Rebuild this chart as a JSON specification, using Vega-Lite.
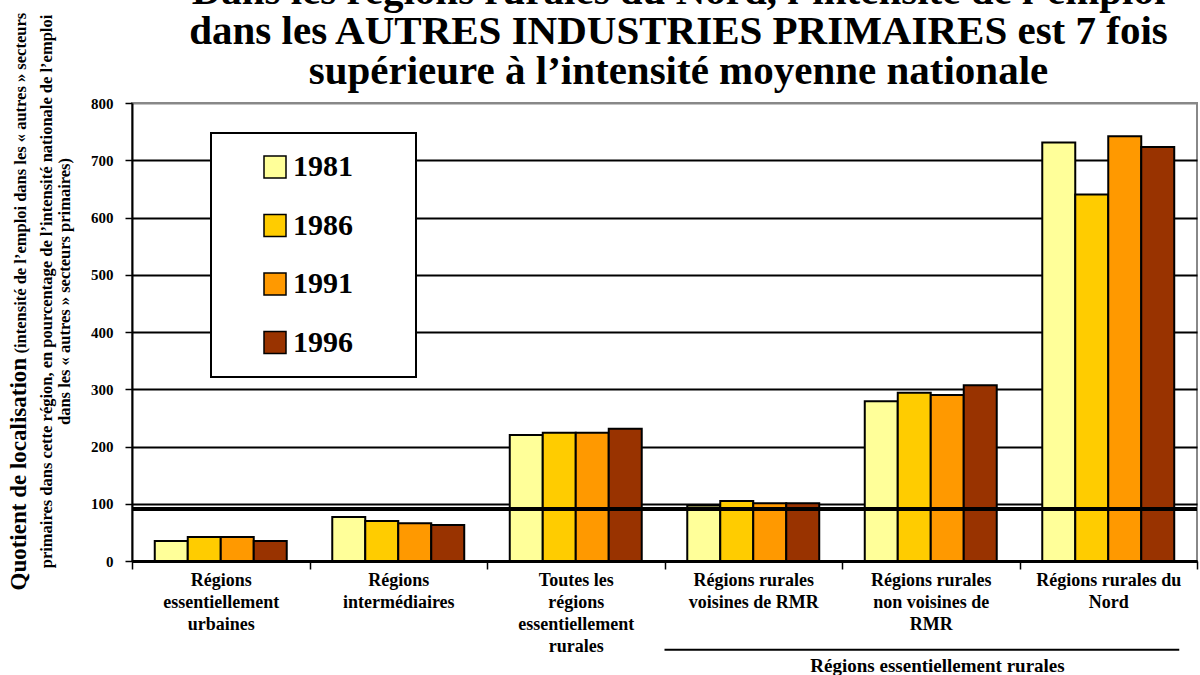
{
  "$schema": "https://vega.github.io/schema/vega-lite/v6.json",
  "width": 1065,
  "height": 458,
  "autosize": {"type": "none"},
  "padding": {"left": 132, "top": 103, "right": 3, "bottom": 114},
  "background": "white",
  "title": {
    "text": ["Dans les régions rurales du Nord, l’intensité de l’emploi", "dans les AUTRES INDUSTRIES PRIMAIRES est 7 fois", "supérieure à l’intensité moyenne nationale"],
    "font": "Liberation Serif",
    "fontSize": 41,
    "fontWeight": "bold",
    "lineHeight": 40,
    "anchor": "middle",
    "dx": 14,
    "offset": -81,
    "color": "black"
  },
  "config": {
    "view": {"stroke": "#888888", "strokeWidth": 2},
    "font": "Liberation Serif",
    "legend": {"strokeWidth": 2}
  },
  "data": {
    "values": [
      {"region": "Régions essentiellement urbaines", "year": "1981", "value": 35},
      {"region": "Régions essentiellement urbaines", "year": "1986", "value": 42},
      {"region": "Régions essentiellement urbaines", "year": "1991", "value": 42},
      {"region": "Régions essentiellement urbaines", "year": "1996", "value": 35},
      {"region": "Régions intermédiaires", "year": "1981", "value": 77},
      {"region": "Régions intermédiaires", "year": "1986", "value": 70},
      {"region": "Régions intermédiaires", "year": "1991", "value": 66},
      {"region": "Régions intermédiaires", "year": "1996", "value": 63},
      {"region": "Toutes les régions essentiellement rurales", "year": "1981", "value": 220},
      {"region": "Toutes les régions essentiellement rurales", "year": "1986", "value": 224},
      {"region": "Toutes les régions essentiellement rurales", "year": "1991", "value": 224},
      {"region": "Toutes les régions essentiellement rurales", "year": "1996", "value": 231},
      {"region": "Régions rurales voisines de RMR", "year": "1981", "value": 97},
      {"region": "Régions rurales voisines de RMR", "year": "1986", "value": 105},
      {"region": "Régions rurales voisines de RMR", "year": "1991", "value": 101},
      {"region": "Régions rurales voisines de RMR", "year": "1996", "value": 101},
      {"region": "Régions rurales non voisines de RMR", "year": "1981", "value": 279},
      {"region": "Régions rurales non voisines de RMR", "year": "1986", "value": 294},
      {"region": "Régions rurales non voisines de RMR", "year": "1991", "value": 290},
      {"region": "Régions rurales non voisines de RMR", "year": "1996", "value": 307},
      {"region": "Régions rurales du Nord", "year": "1981", "value": 731},
      {"region": "Régions rurales du Nord", "year": "1986", "value": 640},
      {"region": "Régions rurales du Nord", "year": "1991", "value": 742},
      {"region": "Régions rurales du Nord", "year": "1996", "value": 723}
    ]
  },
  "layer": [
    {
      "mark": {"type": "bar", "stroke": "black", "strokeWidth": 2},
      "encoding": {
        "x": {
          "field": "region",
          "type": "nominal",
          "sort": null,
          "title": "Régions essentiellement rurales",
          "scale": {
            "domain": ["Régions essentiellement urbaines", "Régions intermédiaires", "Toutes les régions essentiellement rurales", "Régions rurales voisines de RMR", "Régions rurales non voisines de RMR", "Régions rurales du Nord"],
            "paddingInner": 0,
            "paddingOuter": 0
          },
          "axis": {
            "labelExpr": "datum.value == 'Régions essentiellement urbaines' ? ['Régions','essentiellement','urbaines'] : datum.value == 'Régions intermédiaires' ? ['Régions','intermédiaires'] : datum.value == 'Toutes les régions essentiellement rurales' ? ['Toutes les','régions','essentiellement','rurales'] : datum.value == 'Régions rurales voisines de RMR' ? ['Régions rurales','voisines de RMR'] : datum.value == 'Régions rurales non voisines de RMR' ? ['Régions rurales','non voisines de','RMR'] : datum.value == 'Régions rurales du Nord' ? ['Régions rurales du','Nord'] : ''",
            "labelAngle": 0,
            "labelFont": "Liberation Serif",
            "labelFontSize": 18,
            "labelFontWeight": "bold",
            "labelColor": "black",
            "labelLineHeight": 22,
            "labelPadding": 2,
            "labelLimit": 0,
            "tickBand": "extent",
            "tickSize": 8,
            "tickColor": "black",
            "tickWidth": 1.5,
            "domainColor": "black",
            "domainWidth": 3,
            "titleFont": "Liberation Serif",
            "titleFontSize": 19,
            "titleFontWeight": "bold",
            "titleColor": "black",
            "titleX": 805,
            "titleY": 110,
            "titleAlign": "center",
            "titleBaseline": "alphabetic"
          }
        },
        "xOffset": {
          "field": "year",
          "type": "nominal",
          "scale": {"paddingInner": 0, "paddingOuter": 0.69}
        },
        "y": {
          "field": "value",
          "type": "quantitative",
          "scale": {"domain": [0, 800]},
          "axis": {
            "orient": "left",
            "values": [0, 100, 200, 300, 400, 500, 600, 700, 800],
            "domainColor": "black",
            "domainWidth": 2,
            "tickColor": "black",
            "tickWidth": 1.5,
            "tickSize": 7,
            "labelFont": "Liberation Serif",
            "labelFontSize": 15,
            "labelFontWeight": "bold",
            "labelColor": "black",
            "labelPadding": 12,
            "grid": true,
            "gridColor": {"condition": {"test": "datum.value === 800", "value": "#888888"}, "value": "black"},
            "gridWidth": 2,
            "gridOpacity": 1,
            "title": "Quotient de localisation",
            "titleFont": "Liberation Serif",
            "titleFontSize": 23,
            "titleFontWeight": "bold",
            "titleColor": "black",
            "titleAngle": -90,
            "titleAlign": "left",
            "titleBaseline": "alphabetic",
            "titleX": -107,
            "titleY": 487
          }
        },
        "fill": {
          "field": "year",
          "type": "nominal",
          "scale": {"domain": ["1981", "1986", "1991", "1996"], "range": ["#FFFF99", "#FFCC00", "#FF9900", "#993300"]},
          "legend": {
            "orient": "none",
            "legendX": 79,
            "legendY": 30,
            "title": null,
            "direction": "vertical",
            "fillColor": "white",
            "strokeColor": "black",
            "padding": 19,
            "symbolType": "square",
            "symbolSize": 484,
            "symbolStrokeColor": "black",
            "symbolStrokeWidth": 1.5,
            "symbolOffset": 30,
            "labelFont": "Liberation Serif",
            "labelFontSize": 30,
            "labelFontWeight": "bold",
            "labelColor": "black",
            "labelOffset": 3,
            "rowPadding": 28.5,
            "labelExpr": "datum.label + '\u2800\u2800'"
          }
        }
      }
    },
    {
      "data": {"values": [{"national": 91}]},
      "mark": {"type": "rule", "stroke": "black", "strokeWidth": 4},
      "encoding": {
        "y": {
          "field": "national",
          "type": "quantitative",
          "scale": {"domain": [0, 800]},
          "axis": {
            "orient": "left",
            "domain": false,
            "ticks": false,
            "labels": false,
            "grid": false,
            "title": "(intensité de l’emploi dans les « autres » secteurs",
            "titleFont": "Liberation Serif",
            "titleFontSize": 16.5,
            "titleFontWeight": "bold",
            "titleColor": "black",
            "titleAngle": -90,
            "titleAlign": "left",
            "titleBaseline": "alphabetic",
            "titleX": -107,
            "titleY": 250
          }
        }
      }
    },
    {
      "data": {"values": [{"from": "Régions rurales voisines de RMR", "to": "Régions rurales du Nord"}]},
      "mark": {"type": "rule", "stroke": "black", "strokeWidth": 2},
      "encoding": {
        "x": {"field": "from", "type": "nominal", "sort": null, "bandPosition": 0, "title": "Régions essentiellement rurales"},
        "x2": {"field": "to", "bandPosition": 0.9, "title": "Régions essentiellement rurales"},
        "y": {
          "datum": -155,
          "type": "quantitative",
          "scale": {"domain": [0, 800]},
          "axis": {
            "orient": "left",
            "domain": false,
            "ticks": false,
            "labels": false,
            "grid": false,
            "title": ["primaires dans cette région, en pourcentage de l’intensité nationale de l’emploi", "dans les « autres » secteurs primaires)"],
            "titleFont": "Liberation Serif",
            "titleFontSize": 16.5,
            "titleFontWeight": "bold",
            "titleColor": "black",
            "titleLineHeight": 18,
            "titleAngle": -90,
            "titleAlign": "center",
            "titleBaseline": "top",
            "titleX": -94,
            "titleY": 188
          }
        }
      }
    }
  ],
  "resolve": {"scale": {"y": "independent"}}
}
